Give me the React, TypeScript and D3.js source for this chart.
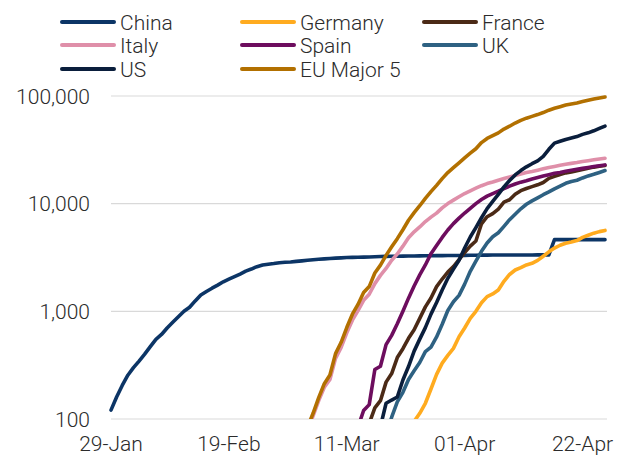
import React from "react";
import * as d3 from "d3";

// ---- categories / ticks ----
const chinaStart = new Date(2020, 0, 29);
const europeStart = new Date(2020, 2, 1);
const endDate = new Date(2020, 3, 26);
const xTickDates = [
  new Date(2020, 0, 29),
  new Date(2020, 1, 19),
  new Date(2020, 2, 11),
  new Date(2020, 3, 1),
  new Date(2020, 3, 22),
];
const xTickLabels = ["29-Jan", "19-Feb", "11-Mar", "01-Apr", "22-Apr"];
const yTicks = [100, 1000, 10000, 100000];

// ---- series values (cumulative deaths) ----
// China: daily from 29-Jan
const china = [
  121, 160, 205, 255, 300, 345, 400, 470, 550, 610, 700, 790, 890, 1000, 1090, 1250, 1420, 1530, 1640, 1750,
  1880, 1990, 2100, 2220, 2360, 2470, 2600, 2690, 2740, 2780, 2830, 2860, 2870, 2912, 2943, 2981, 3013, 3042,
  3070, 3097, 3120, 3136, 3158, 3169, 3176, 3189, 3199, 3213, 3226, 3237, 3245, 3249, 3255, 3261, 3270, 3277,
  3281, 3287, 3292, 3295, 3300, 3304, 3305, 3312, 3318, 3322, 3326, 3330, 3331, 3333, 3335, 3336, 3339, 3339,
  3341, 3341, 3342, 3342, 3342, 4632, 4632, 4632, 4632, 4632, 4632, 4632, 4632, 4632, 4632,
];
// Others: daily from 01-Mar
const germany = [
  null, null, null, null, null, null, null, null, null, 2, 2, 3, 3, 7, 9, 11, 17, 24, 28, 44, 67, 70, 95, 113,
  140, 190, 260, 330, 390, 453, 580,
  700, 860, 1000, 1200, 1370, 1450, 1580, 1900, 2200, 2420, 2550, 2700, 2790, 2970, 3250, 3570, 3870, 4110,
  4290, 4400, 4540, 4860, 5090, 5320, 5500, 5640,
];
const france = [
  2, 2, 3, 4, 4, 6, 9, 11, 19, 19, 33, 48, 48, 79, 91, 127, 148, 220, 264, 372, 450, 562, 674, 860, 1100, 1331,
  1696, 1995, 2314, 2606, 3024,
  3523, 4032, 4503, 6507, 7560, 8078, 8911, 10328, 10869, 12210, 13197, 13832, 14393, 14967, 15729, 17167,
  17920, 18681, 19323, 19718, 20265, 20796, 21340, 21856, 22245, 22614,
];
const italy = [
  29, 34, 52, 79, 107, 148, 197, 233, 366, 463, 631, 827, 1016, 1266, 1441, 1809, 2158, 2503, 2978, 3405, 4032,
  4825, 5476, 6077, 6820, 7503, 8165, 9134, 10023, 10779, 11591,
  12428, 13155, 13915, 14681, 15362, 15887, 16523, 17127, 17669, 18279, 18849, 19468, 19899, 20465, 21067,
  21645, 22170, 22745, 23227, 23660, 24114, 24648, 25085, 25549, 25969, 26384,
];
const spain = [
  null, null, null, null, null, null, null, 10, 17, 28, 35, 54, 84, 120, 136, 288, 309, 491, 598, 767, 1002, 1326,
  1720, 2182, 2696, 3434, 4089, 4858, 5690, 6528, 7340,
  8189, 9053, 10003, 10935, 11744, 12418, 13055, 13798, 14555, 15238, 15843, 16353, 16972, 17489, 18056, 18579,
  19130, 19478, 20043, 20453, 20852, 21282, 21717, 22157, 22524, 22902,
];
const uk = [
  null, null, null, null, null, 1, 2, 2, 3, 4, 6, 8, 8, 21, 21, 35, 55, 71, 104, 144, 177, 233, 281, 335, 422,
  465, 578, 759, 1019, 1228, 1408,
  1789, 2352, 2921, 3605, 4313, 4934, 5373, 6159, 7097, 7978, 8958, 9875, 10612, 11329, 12107, 12868, 13729,
  14576, 15464, 16060, 16509, 17337, 18100, 18738, 19506, 20319,
];
const us = [
  null, null, null, null, null, null, null, null, null, 26, 30, 38, 41, 48, 57, 68, 85, 140, 150, 160, 230, 307,
  427, 552, 706, 942, 1209, 1581, 2026, 2467, 2978,
  3873, 4900, 6000, 7400, 9000, 10500, 12200, 14300, 16400, 18500, 20300, 22000, 23500, 25000, 27500, 32000,
  36500, 38000, 39500, 40700, 42000, 44000, 45500, 47500, 50000, 52500,
];
const euMajor5 = [
  31, 36, 55, 84, 113, 158, 213, 256, 405, 516, 707, 940, 1159, 1493, 1698, 2270, 2687, 3309, 3972, 4732, 5728,
  7016, 8246, 9567, 11178, 12923, 14788, 17076, 19436, 21594, 23943,
  26629, 29452, 32342, 36928, 40349, 42767, 45442, 49312, 52390, 56125, 59397, 62228, 64666, 67220, 70209,
  73829, 76819, 79590, 82347, 84291, 86280, 88923, 91332, 93620, 95744, 97859,
];

const seriesNames = ["China", "Germany", "France", "Italy", "Spain", "UK", "US", "EU Major 5"];
const seriesColors = ["#0c3566", "#ffab1f", "#4b2a16", "#df8fa9", "#6d0d5e", "#2e6182", "#0a1e3c", "#b27000"];
const seriesValues = [china, germany, france, italy, spain, uk, us, euMajor5];
const seriesStarts = [chinaStart, europeStart, europeStart, europeStart, europeStart, europeStart, europeStart, europeStart];

const W = 618;
const H = 457;
const FONT = "Roboto, 'Liberation Sans', Arial, sans-serif";
const TEXT_COLOR = "#2b2b2b";

export default function App() {
  const x = d3.scaleTime().domain([chinaStart, endDate]).range([111, 605]);
  const y = d3.scaleLog().domain([100, 100000]).range([419, 96]);
  const fmt = d3.format(",");

  const line = d3
    .line<{ d: Date; v: number | null }>()
    .defined((p) => p.v != null && p.v > 0)
    .x((p) => x(p.d))
    .y((p) => y(p.v as number));

  const legendCols = [60, 240, 422];
  const legendRows = [22, 45, 69];

  return (
    <svg
      width={W}
      height={H}
      style={{ position: "absolute", left: 0, top: 0, background: "#fff" }}
      fontFamily={FONT}
      fontWeight={300}
    >
      <defs>
        <clipPath id="plotClip">
          <rect x={100} y={80} width={515} height={339} />
        </clipPath>
      </defs>
      {yTicks.map((t) => (
        <g key={t}>
          <line x1={111} x2={607} y1={y(t)} y2={y(t)} stroke="#d9d9d9" strokeWidth={1.2} />
          <text x={90} y={y(t)} dy="0.36em" textAnchor="end" fontSize={21} fill={TEXT_COLOR}>
            {fmt(t)}
          </text>
        </g>
      ))}
      {xTickDates.map((d, i) => (
        <text key={i} x={x(d)} y={451} textAnchor="middle" fontSize={21} fill={TEXT_COLOR}>
          {xTickLabels[i]}
        </text>
      ))}
      <g clipPath="url(#plotClip)">
        {seriesValues.map((vals, si) => {
          const pts = vals.map((v, i) => ({ d: d3.timeDay.offset(seriesStarts[si], i), v }));
          return (
            <path
              key={si}
              d={line(pts) || ""}
              fill="none"
              stroke={seriesColors[si]}
              strokeWidth={3.6}
              strokeLinejoin="round"
              strokeLinecap="round"
            />
          );
        })}
      </g>
      {seriesNames.map((name, i) => {
        const cx = legendCols[i % 3];
        const cy = legendRows[Math.floor(i / 3)];
        return (
          <g key={name}>
            <line x1={cx + 2} x2={cx + 54} y1={cy} y2={cy} stroke={seriesColors[i]} strokeWidth={4} strokeLinecap="round" />
            <text x={cx + 60} y={cy} dy="0.36em" fontSize={21} fill={TEXT_COLOR}>
              {name}
            </text>
          </g>
        );
      })}
    </svg>
  );
}
